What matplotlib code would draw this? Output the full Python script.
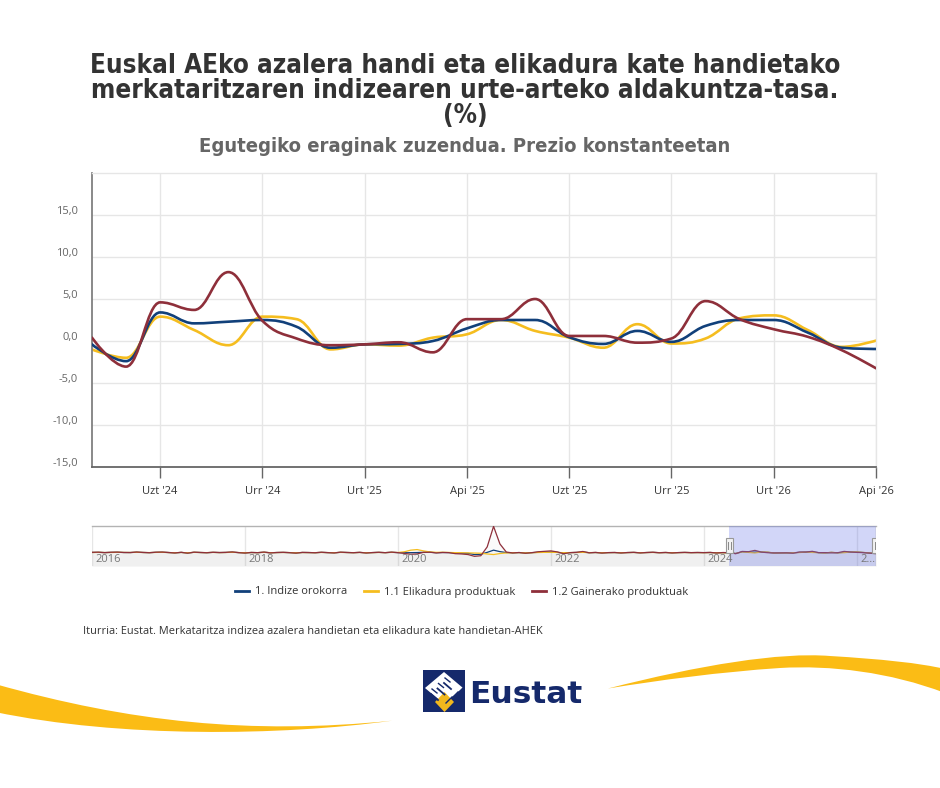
import numpy as np
import matplotlib
matplotlib.use("Agg")
import matplotlib.pyplot as plt
from matplotlib.path import Path
from matplotlib.patches import PathPatch, Rectangle, Polygon
from matplotlib.lines import Line2D
import matplotlib.transforms as mtransforms

plt.rcParams['font.family'] = ['Open Sans', 'DejaVu Sans']

# --- datos (tasa interanual, %) mayo 2024 - abril 2026 ---
MONTHS = ["Mai '24", "Eka '24", "Uzt '24", "Abu '24", "Ira '24", "Urr '24",
          "Aza '24", "Abe '24", "Urt '25", "Ots '25", "Mar '25", "Api '25",
          "Mai '25", "Eka '25", "Uzt '25", "Abu '25", "Ira '25", "Urr '25",
          "Aza '25", "Abe '25", "Urt '26", "Ots '26", "Mar '26", "Api '26"]
TICK_MONTHS = ["Uzt '24", "Urr '24", "Urt '25", "Api '25",
               "Uzt '25", "Urr '25", "Urt '26", "Api '26"]

indize_orokorra = [-0.4, -2.4, 3.4, 2.1, 2.3, 2.5, 1.7, -0.8, -0.4, -0.35, 0.0, 1.5,
                   2.5, 2.5, 0.45, -0.35, 1.2, -0.1, 1.8, 2.5, 2.5, 1.0, -0.8, -0.95]
elikadura = [-1.0, -2.0, 2.9, 1.3, -0.5, 2.9, 2.6, -1.0, -0.4, -0.55, 0.4, 0.8,
             2.5, 1.2, 0.4, -0.8, 2.0, -0.3, 0.3, 2.7, 3.05, 1.3, -0.7, 0.05]
gainerako = [0.4, -3.05, 4.6, 3.7, 8.2, 2.4, 0.3, -0.5, -0.4, -0.15, -1.35, 2.6,
             2.6, 5.0, 0.6, 0.6, -0.2, 0.3, 4.75, 2.6, 1.4, 0.5, -1.1, -3.25]

Y_TICKS = [-15, -10, -5, 0, 5, 10, 15]

# navegador: urtarrila 2016 - apirila 2024 (gero goiko datuak)
NAV_START = 2016
nav_orokorra_hist = [
    1.2, 1.6, 0.8, 1.4, 1.9, 1.0, 0.9, 2.0, 1.1, 0.5, 1.6, 2.0,
    0.9, -0.2, 1.3, -0.6, 1.7, 1.0, 0.4, 1.5, 0.8, 1.2, 2.2, 0.7,
    -0.3, 1.0, 0.5, 1.9, 0.1, 0.9, 1.3, 0.6, -0.5, 1.1, 0.8, 0.3,
    1.5, 0.6, -0.1, 1.7, 1.0, 0.4, 1.3, -0.2, 0.7, 1.4, 0.5, 1.8,
    0.6, 0.2, 0.5, 0.8, 1.8, 2.0, 0.3, 1.0, 0.6, -0.6, -1.0, -1.8,
    -6.0, -5.0, 1.5, 9.0, 4.0, 0.8, -0.2, 0.7, -0.8, 0.4, 1.6, 2.2,
    2.5, 1.4, -0.8, 0.6, 1.2, 2.3, 0.3, 1.0, -0.3, 0.6, 0.9, -0.2,
    0.8, 1.3, 0.0, 0.9, 1.5, 0.4, 1.0, -0.1, 0.7, 1.2, 0.6, 0.9,
    0.6, 1.0, -0.3, 0.6]
nav_elikadura_hist = [
    1.0, 1.4, 0.9, 1.1, 1.6, 1.2, 1.0, 1.7, 1.0, 0.7, 1.3, 1.7,
    0.8, 0.2, 1.1, -0.1, 1.5, 0.9, 0.6, 1.3, 0.7, 1.0, 1.8, 0.8,
    0.1, 0.9, 0.6, 1.6, 0.4, 0.8, 1.1, 0.7, -0.1, 0.9, 0.7, 0.5,
    1.2, 0.7, 0.3, 1.4, 0.9, 0.5, 1.1, 0.2, 0.6, 1.2, 0.6, 1.5,
    1.0, 3.5, 9.0, 11.0, 6.5, 3.0, 1.5, 1.8, 1.2, 0.5, 0.2, -0.3,
    -0.8, -1.5, -4.0, -6.0, -2.5, -0.5, 0.2, 0.6, -0.4, 0.3, 1.0, 1.5,
    1.8, 1.2, 0.3, 0.7, 1.0, 1.5, 0.6, 0.9, 0.1, 0.6, 0.8, 0.2,
    0.7, 1.1, 0.3, 0.8, 1.2, 0.5, 0.9, 0.2, 0.6, 1.0, 0.6, 0.8,
    0.5, 0.9, -0.1, 0.4]
nav_gainerako_hist = [
    1.5, 2.0, 0.5, 1.8, 2.2, 1.0, 0.8, 2.5, 1.2, 0.3, 1.9, 2.4,
    1.0, -0.5, 1.6, -1.2, 2.0, 1.1, 0.2, 1.7, 0.9, 1.4, 2.8, 0.6,
    -0.8, 1.2, 0.4, 2.3, -0.2, 1.0, 1.6, 0.5, -1.0, 1.3, 0.9, 0.2,
    1.8, 0.6, -0.4, 2.0, 1.1, 0.3, 1.5, -0.6, 0.8, 1.7, 0.4, 2.1,
    0.5, -2.0, -5.0, -4.0, 1.5, 2.0, -0.5, 1.0, 0.5, -3.0, -4.0, -6.0,
    -12.0, -10.0, 20.0, 90.0, 30.0, 2.5, -0.5, 1.0, -1.5, 0.5, 3.5, 5.0,
    6.5, 3.0, -3.0, 0.5, 1.5, 4.5, 0.0, 1.2, -0.8, 0.6, 1.0, -0.5,
    0.8, 1.5, -0.3, 0.9, 1.8, 0.2, 1.1, -0.4, 0.7, 1.3, 0.5, 1.0,
    0.6, 1.2, -0.5, 0.9]

BLUE = '#11407a'
YELLOW = '#f5bd1f'
RED = '#8e2f3a'
SWOOSH = '#fbbc15'
NAVY = '#15296b'
GRID = '#e6e6e6'


def spline_path(xs, ys, smoothing=1.5):
    # Highcharts-en spline kalkulua (kontrol puntuak)
    n = len(xs)
    den = smoothing + 1
    lc = [None] * n
    rc = [None] * n
    for i in range(1, n - 1):
        px, py = xs[i], ys[i]
        lx, ly = xs[i - 1], ys[i - 1]
        nx, ny = xs[i + 1], ys[i + 1]
        lcx = (smoothing * px + lx) / den
        lcy = (smoothing * py + ly) / den
        rcx = (smoothing * px + nx) / den
        rcy = (smoothing * py + ny) / den
        corr = ((rcy - lcy) * (rcx - px)) / (rcx - lcx) + py - rcy
        lcy += corr
        rcy += corr
        if lcy > ly and lcy > py:
            lcy = max(ly, py); rcy = 2 * py - lcy
        elif lcy < ly and lcy < py:
            lcy = min(ly, py); rcy = 2 * py - lcy
        if rcy > ny and rcy > py:
            rcy = max(ny, py); lcy = 2 * py - rcy
        elif rcy < ny and rcy < py:
            rcy = min(ny, py); lcy = 2 * py - rcy
        lc[i] = (lcx, lcy)
        rc[i] = (rcx, rcy)
    verts = [(xs[0], ys[0])]
    codes = [Path.MOVETO]
    for i in range(1, n):
        c1 = rc[i - 1] if rc[i - 1] else (xs[i - 1], ys[i - 1])
        c2 = lc[i] if lc[i] else (xs[i], ys[i])
        verts += [c1, c2, (xs[i], ys[i])]
        codes += [Path.CURVE4] * 3
    return Path(verts, codes)


W, H = 940, 788
fig = plt.figure(figsize=(W / 100, H / 100), dpi=100)
fig.patch.set_facecolor('white')

# fondoa: logoa eta uhinak (pixel koordenatuak)
bg = fig.add_axes([0, 0, 1, 1], zorder=-5)
bg.set_xlim(0, W)
bg.set_ylim(H, 0)
bg.axis('off')

left_swoosh = Path(
    [(-5, 684), (130, 722), (250, 735), (392, 720.7),
     (280, 736), (120, 738), (-5, 712), (-5, 684)],
    [Path.MOVETO, Path.CURVE4, Path.CURVE4, Path.CURVE4,
     Path.CURVE4, Path.CURVE4, Path.CURVE4, Path.CLOSEPOLY])
right_swoosh = Path(
    [(608, 688.5), (700, 665), (780, 652), (830, 656),
     (880, 659), (920, 663), (945, 669),
     (945, 693),
     (890, 672), (830, 665), (780, 668),
     (720, 672), (660, 680), (608, 688.5), (608, 688.5)],
    [Path.MOVETO, Path.CURVE4, Path.CURVE4, Path.CURVE4,
     Path.CURVE4, Path.CURVE4, Path.CURVE4,
     Path.LINETO,
     Path.CURVE4, Path.CURVE4, Path.CURVE4,
     Path.CURVE4, Path.CURVE4, Path.CURVE4, Path.CLOSEPOLY])
for p in (left_swoosh, right_swoosh):
    bg.add_patch(PathPatch(p, facecolor=SWOOSH, edgecolor='none'))

# Eustat logoa
bg.add_patch(Rectangle((423, 670), 42, 42, facecolor=NAVY, edgecolor='none'))
bg.add_patch(Polygon([(444, 672), (463, 688), (444, 704), (425, 688)],
                     closed=True, facecolor='white', edgecolor='none'))
for k in range(3):
    x0 = 431 + k * 6.5
    bg.plot([x0, x0 + 7], [683 - k * 5.5 + 11, 683 - k * 5.5 + 17], color=NAVY, lw=1.3)
    bg.plot([x0 + 1, x0 + 6], [683 - k * 5.5 + 6, 683 - k * 5.5 + 10], color=NAVY, lw=1.0)
for k in range(3):
    x0 = 446 + k * 6
    bg.plot([x0, x0 + 6], [703 - k * 5, 697 - k * 5], color=NAVY, lw=1.0)
bg.add_patch(Polygon([(444.5, 692), (454, 702), (444.5, 712), (435, 702)],
                     closed=True, facecolor='#f2b81d', edgecolor='none'))
bg.text(469, 703, 'Eustat', fontsize=22.5, fontweight='bold', color=NAVY,
        family=['DejaVu Sans'], ha='left', va='baseline')

# izenburuak
title_kw = dict(ha='center', va='center', fontsize=18.6, fontweight='bold', color='#333333',
                family=['DejaVu Sans'], fontstretch='condensed')
fig.text(465 / W, 1 - 66 / H, 'Euskal AEko azalera handi eta elikadura kate handietako', **title_kw)
fig.text(465 / W, 1 - 91 / H, 'merkataritzaren indizearen urte-arteko aldakuntza-tasa.', **title_kw)
fig.text(465 / W, 1 - 116 / H, '(%)', **title_kw)
fig.text(465 / W, 1 - 146 / H, 'Egutegiko eraginak zuzendua. Prezio konstanteetan',
         ha='center', va='center', fontsize=14.5, fontweight='bold', color='#666666',
         family=['DejaVu Sans'], fontstretch='condensed')

# --- grafiko nagusia ---
x = np.arange(len(MONTHS))
ax = fig.add_axes([92 / W, 1 - 467 / H, 784 / W, 294 / H])
ax.set_xlim(0, len(MONTHS) - 1)
ax.set_ylim(-15, 20)

for yv in [-10, -5, 0, 5, 10, 15]:
    ax.axhline(yv, color=GRID, lw=1, zorder=0)
tick_pos = [MONTHS.index(m) for m in TICK_MONTHS]
for xp in tick_pos:
    ax.axvline(xp, color=GRID, lw=1, zorder=0)

for vals, col, z in [(indize_orokorra, BLUE, 3), (elikadura, YELLOW, 2), (gainerako, RED, 4)]:
    ax.add_patch(PathPatch(spline_path(list(x), vals), fill=False, edgecolor=col,
                           lw=1.9, zorder=z, capstyle='round', joinstyle='round'))

ax.set_xticks(tick_pos)
ax.set_xticklabels(TICK_MONTHS, fontsize=8, color='#333333')
ax.set_yticks(Y_TICKS)
ax.set_yticklabels([f'{v:.1f}'.replace('.', ',') for v in Y_TICKS], fontsize=8, color='#666666')
ax.tick_params(axis='x', length=8, width=1, color='#666666', pad=6)
ax.tick_params(axis='y', length=0, pad=10)
off = mtransforms.ScaledTranslation(0, 5 / 100, fig.dpi_scale_trans)
for lab in ax.get_yticklabels():
    lab.set_transform(lab.get_transform() + off)
for s in ['top', 'right']:
    ax.spines[s].set_color(GRID)
    ax.spines[s].set_linewidth(1)
ax.spines['left'].set_color('#808080')
ax.spines['left'].set_linewidth(1.3)
ax.spines['bottom'].set_color('#666666')
ax.spines['bottom'].set_linewidth(1.3)

# --- navegador ---
nav_x = NAV_START + np.arange(len(nav_gainerako_hist) + len(gainerako)) / 12
NAV_MIN, NAV_MAX = -45, 93
nav = fig.add_axes([92 / W, 1 - 566 / H, 784 / W, 40.5 / H])
nav.set_xlim(nav_x[0], nav_x[-1])
nav.set_ylim(NAV_MIN, NAV_MAX)
blend = mtransforms.blended_transform_factory(nav.transData, nav.transAxes)
for yr in range(2016, 2027, 2):
    nav.axvline(yr, color=GRID, lw=1, zorder=0)
    lab = '2\u2026' if yr == 2026 else str(yr)
    nav.text(yr + 0.04, 0.17, lab, fontsize=8, color='#777777', ha='left', va='center',
             zorder=6, transform=blend)
for hist, main, col in [(nav_orokorra_hist, indize_orokorra, BLUE),
                        (nav_elikadura_hist, elikadura, YELLOW),
                        (nav_gainerako_hist, gainerako, RED)]:
    yv = np.array(hist + main)
    nav.fill_between(nav_x, yv, NAV_MIN, color='#a0a0a0', alpha=0.05, lw=0, zorder=1)
    nav.plot(nav_x, yv, color=col, lw=0.9, zorder=3)

sel0 = nav_x[len(nav_gainerako_hist)]
sel1 = nav_x[-1]
nav.axvspan(sel0, sel1, color='#6a78e8', alpha=0.3, lw=0, zorder=4)
nav.axvline(sel1, color='#b0b0b0', lw=1, zorder=5)
hw = 0.05
for hx in (sel0, sel1):
    nav.add_patch(Rectangle((hx - hw, 0.33), 2 * hw, 0.36, transform=blend,
                            facecolor='#f2f2f2', edgecolor='#999999', lw=0.8, zorder=7))
    for dx in (-0.015, 0.015):
        nav.plot([hx + dx, hx + dx], [0.42, 0.6], transform=blend, color='#888888', lw=0.7, zorder=8)
nav.set_xticks([])
nav.set_yticks([])
for s in ['left', 'right', 'bottom']:
    nav.spines[s].set_visible(False)
nav.spines['top'].set_color('#b3b3b3')
nav.spines['top'].set_linewidth(1)

# --- legenda ---
handles = [Line2D([], [], color=BLUE, lw=2),
           Line2D([], [], color=YELLOW, lw=2),
           Line2D([], [], color=RED, lw=2)]
fig.legend(handles, ['1. Indize orokorra', '1.1 Elikadura produktuak', '1.2 Gainerako produktuak'],
           loc='center', bbox_to_anchor=(462 / W, 1 - 592 / H), ncol=3, frameon=False,
           fontsize=8, handlelength=1.2, handletextpad=0.6, columnspacing=1.5,
           labelcolor='#333333')

fig.text(83 / W, 1 - 632 / H,
         'Iturria: Eustat. Merkataritza indizea azalera handietan eta elikadura kate handietan-AHEK',
         ha='left', va='center', fontsize=7.9, color='#333333', family=['Open Sans', 'DejaVu Sans'])

fig.savefig('out.png', dpi=100, facecolor='white')
